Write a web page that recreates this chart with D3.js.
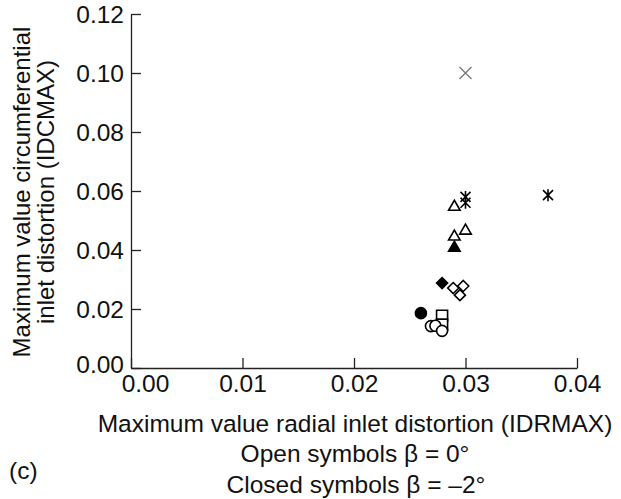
<!DOCTYPE html>
<html>
<head>
<meta charset="utf-8">
<script src="https://cdn.jsdelivr.net/npm/d3@7"></script>
<style>
  body { margin: 0; background: #fff; }
  text { font-family: Arial, "Liberation Sans", Helvetica, sans-serif; fill: #111; }
</style>
</head>
<body>
<svg id="chart" width="621" height="499"></svg>
<script>
// values
const idrmax = [0.0300, 0.0374, 0.0300, 0.0300, 0.0290, 0.0300, 0.0290, 0.0290,
                0.0279, 0.0289, 0.0298, 0.0295, 0.0260, 0.0279, 0.0279, 0.0269, 0.0273, 0.0279];
const idcmax = [0.1000, 0.0586, 0.0580, 0.0560, 0.0546, 0.0465, 0.0445, 0.0407,
                0.0288, 0.0271, 0.0278, 0.0247, 0.0186, 0.0177, 0.0147, 0.0142, 0.0143, 0.0126];
const shapes = ["x", "asterisk", "asterisk", "asterisk", "triangle", "triangle", "triangle", "triangle",
                "diamond", "diamond", "diamond", "diamond", "circle", "square", "square", "circle", "circle", "circle"];
const filled = [false, false, false, false, false, false, false, true,
                true, false, false, false, true, false, false, false, false, false];

const xTicks = [0, 0.01, 0.02, 0.03, 0.04];
const yTicks = [0, 0.02, 0.04, 0.06, 0.08, 0.10, 0.12];

const svg = d3.select("#chart");
const x = d3.scaleLinear().domain([0, 0.04]).range([131, 577]);
const y = d3.scaleLinear().domain([0, 0.12]).range([368, 14]);

// axes with inward ticks
const xAxis = svg.append("g").attr("transform", "translate(0,368)")
  .call(d3.axisBottom(x).tickValues(xTicks).tickSizeInner(-10).tickSizeOuter(0).tickFormat(d3.format(".2f")));
const yAxis = svg.append("g").attr("transform", "translate(131,0)")
  .call(d3.axisLeft(y).tickValues(yTicks).tickSizeInner(-10).tickSizeOuter(0).tickFormat(d3.format(".2f")));

[xAxis, yAxis].forEach(a => {
  a.select(".domain").attr("stroke", "#222").attr("stroke-width", 1.3);
  a.selectAll(".tick line").attr("stroke", "#222").attr("stroke-width", 1.3);
  a.selectAll("text").attr("font-size", 24.5).attr("fill", "#111")
    .style("font-family", "Arial, 'Liberation Sans', sans-serif");
});
xAxis.selectAll("text").attr("dy", null).attr("y", 24);
xAxis.selectAll(".tick").filter(d => d === 0).select("text").attr("x", 14);
yAxis.selectAll("text").attr("x", -7).attr("dy", "0.35em");
yAxis.selectAll(".tick").filter(d => d === 0).select("text").attr("dy", "0.2em");

// markers
const r = 5.5;
function markerPath(s) {
  if (s === "triangle") return d3.symbol(d3.symbolTriangle, 58)();
  if (s === "diamond") return `M0,${-r}L${r},0L0,${r}L${-r},0Z`;
  if (s === "square") return `M${-r},${-r}H${r}V${r}H${-r}Z`;
  if (s === "circle") return d3.symbol(d3.symbolCircle, Math.PI * r * r)();
  if (s === "x") return `M-6,-6L6,6M-6,6L6,-6`;
  return `M-5,-5L5,5M-5,5L5,-5M0,-6V6`;
}

const idx = d3.range(idrmax.length);
svg.append("g").selectAll("path")
  .data(idx)
  .join("path")
  .attr("transform", i => `translate(${x(idrmax[i])},${y(idcmax[i])})`)
  .attr("d", i => markerPath(shapes[i]))
  .attr("fill", i => filled[i] ? "#000" : (shapes[i] === "x" || shapes[i] === "asterisk" ? "none" : "#fff"))
  .attr("stroke", i => shapes[i] === "x" ? "#777" : "#000")
  .attr("stroke-width", i => shapes[i] === "x" ? 1.3 : 1.6);

// titles
svg.append("text").attr("x", 355).attr("y", 432).attr("text-anchor", "middle")
  .attr("font-size", 24.5).text("Maximum value radial inlet distortion (IDRMAX)");
svg.append("text").attr("x", 355).attr("y", 462).attr("text-anchor", "middle")
  .attr("font-size", 24.5).text("Open symbols β = 0°");
svg.append("text").attr("x", 356).attr("y", 493).attr("text-anchor", "middle")
  .attr("font-size", 24.5).text("Closed symbols β = –2°");
svg.append("text").attr("x", 9).attr("y", 479).attr("font-size", 24.5).text("(c)");

const yt = svg.append("text").attr("transform", "translate(30,192) rotate(-90)")
  .attr("text-anchor", "middle").attr("font-size", 24);
yt.append("tspan").attr("x", 0).attr("y", 0).text("Maximum value circumferential");
yt.append("tspan").attr("x", 0).attr("y", 24).text("inlet distortion (IDCMAX)");
</script>
</body>
</html>
